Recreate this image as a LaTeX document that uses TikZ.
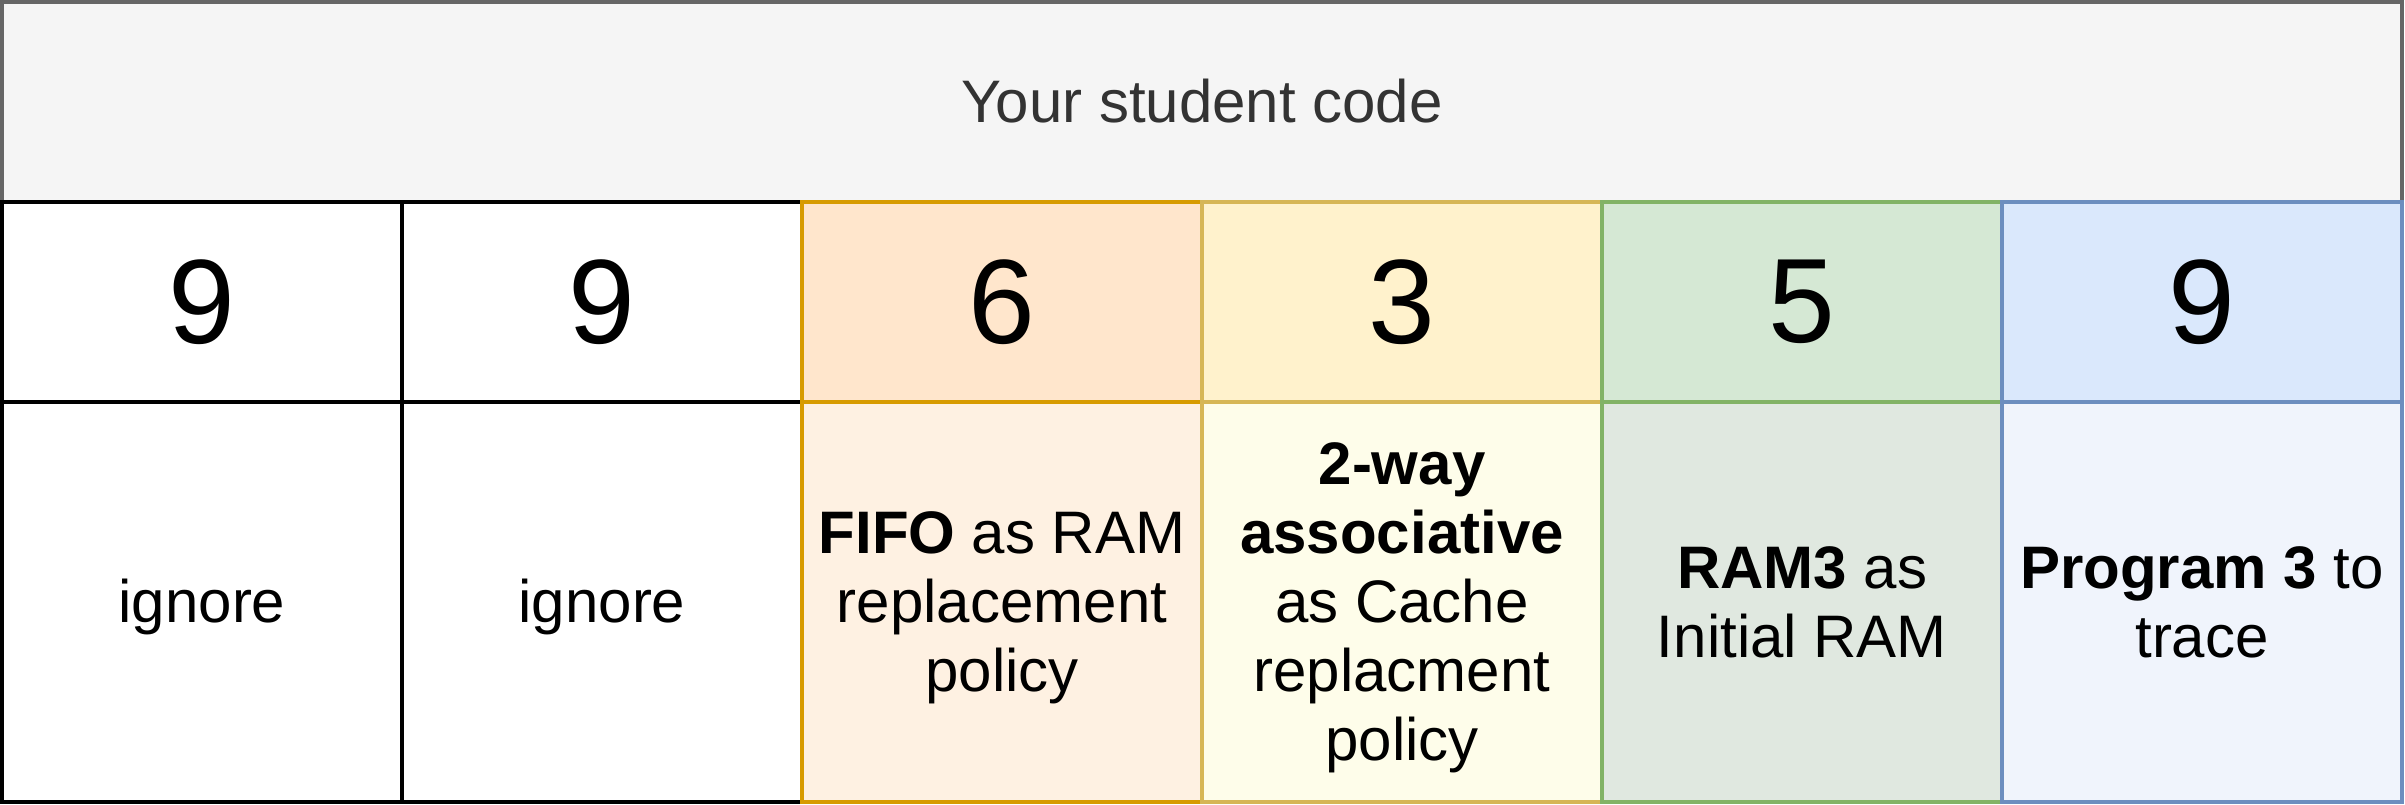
\documentclass[tikz,border=0pt]{standalone}
\usepackage{fontspec}
\setmainfont{Liberation Sans}
\definecolor{hdrfill}{HTML}{F5F5F5}
\definecolor{hdrline}{HTML}{666666}
\definecolor{hdrtext}{HTML}{333333}
\definecolor{orTop}{HTML}{FFE6CC}
\definecolor{orLine}{HTML}{D79B00}
\definecolor{orBot}{HTML}{FEF1E2}
\definecolor{yeTop}{HTML}{FFF2CC}
\definecolor{yeLine}{HTML}{D6B656}
\definecolor{yeBot}{HTML}{FEFDEA}
\definecolor{grTop}{HTML}{D5E8D4}
\definecolor{grLine}{HTML}{82B366}
\definecolor{grBot}{HTML}{E0E8E0}
\definecolor{blTop}{HTML}{DAE8FC}
\definecolor{blLine}{HTML}{6C8EBF}
\definecolor{blBot}{HTML}{F0F4FC}
\newcommand\lnstrut{\rule[-13.7pt]{0pt}{69pt}}
\begin{document}
\begin{tikzpicture}[x=1pt,y=-1pt,
  cellbox/.style={draw, line width=4pt, rectangle, inner sep=0pt, outer sep=0pt,
    minimum width=400pt, align=center, text=black},
  numcell/.style={cellbox, minimum height=200pt, font=\fontsize{120}{144}\selectfont},
  txtcell/.style={cellbox, minimum height=400pt, font=\fontsize{60}{69}\selectfont},
  hdrbox/.style={draw=hdrline, fill=hdrfill, line width=4pt, rectangle, inner sep=0pt,
    outer sep=0pt, minimum width=2400pt, minimum height=200pt, text=hdrtext,
    font=\fontsize{60}{69}\selectfont}
]
\useasboundingbox (0,0) rectangle (2405,805);
\node[hdrbox] (hdr) at (1202,102) {\lnstrut Your student code};
% column 1
\node[numcell, draw=black, fill=white] (n1) at (202,302) {9};
\node[txtcell, draw=black, fill=white] (t1) at (202,602) {\lnstrut ignore};
% column 2
\node[numcell, draw=black, fill=white] (n2) at (602,302) {9};
\node[txtcell, draw=black, fill=white] (t2) at (602,602) {\lnstrut ignore};
% column 3
\node[numcell, draw=orLine, fill=orTop] (n3) at (1002,302) {6};
\node[txtcell, draw=orLine, fill=orBot] (t3) at (1002,602)
  {\lnstrut\textbf{FIFO} as RAM\\\lnstrut replacement\\\lnstrut policy};
% column 4
\node[numcell, draw=yeLine, fill=yeTop] (n4) at (1402,302) {3};
\node[txtcell, draw=yeLine, fill=yeBot] (t4) at (1402,602)
  {\lnstrut\textbf{2-way}\\\lnstrut\textbf{associative}\\\lnstrut as Cache\\\lnstrut replacment\\\lnstrut policy};
% column 5
\node[numcell, draw=grLine, fill=grTop] (n5) at (1802,302) {5};
\node[txtcell, draw=grLine, fill=grBot] (t5) at (1802,602)
  {\lnstrut\textbf{RAM3} as\\\lnstrut Initial RAM};
% column 6
\node[numcell, draw=blLine, fill=blTop] (n6) at (2202,302) {9};
\node[txtcell, draw=blLine, fill=blBot] (t6) at (2202,602)
  {\lnstrut\textbf{Program 3} to\\\lnstrut trace};
\end{tikzpicture}
\end{document}
